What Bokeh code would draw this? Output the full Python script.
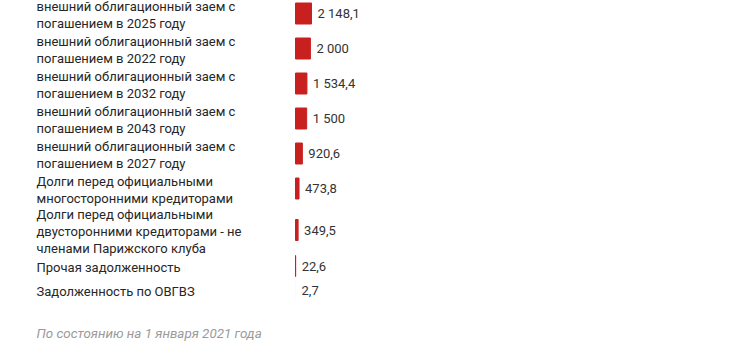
from bokeh.plotting import figure
from bokeh.models import ColumnDataSource, LabelSet, Label, Range1d
from bokeh.core.properties import value
from bokeh.embed import file_html
from bokeh.resources import INLINE

categories = [
    "внешний облигационный заем с\nпогашением в 2025 году",
    "внешний облигационный заем с\nпогашением в 2022 году",
    "внешний облигационный заем с\nпогашением в 2032 году",
    "внешний облигационный заем с\nпогашением в 2043 году",
    "внешний облигационный заем с\nпогашением в 2027 году",
    "Долги перед официальными\nмногосторонними кредиторами",
    "Долги перед официальными\nдвусторонними кредиторами - не\nчленами Парижского клуба",
    "Прочая задолженность",
    "Задолженность по ОВГВЗ",
]
values = [2148.1, 2000, 1534.4, 1500, 920.6, 473.8, 349.5, 22.6, 2.7]
value_labels = ["2 148,1", "2 000", "1 534,4", "1 500", "920,6", "473,8", "349,5", "22,6", "2,7"]
footnote = "По состоянию на 1 января 2021 года"

W, H = 730, 347
BAR_X0 = 295          # pixel where the zero of the value axis sits
PX_PER_UNIT = 16 / 2148.1
row_h = {1: 24, 2: 35, 3: 48}
BAR_COLOR = "#c8201f"

# row centres (pixel-like units from top), derived from label line counts
lines = [c.count("\n") + 1 for c in categories]
centres = []
y = 13.0
for i, n in enumerate(lines):
    if i > 0:
        y += (row_h[lines[i - 1]] + row_h[n]) / 2
    centres.append(y)

# thin bars still get a hairline like the original renderer, tiny ones nothing
outline = [1.0 if v * PX_PER_UNIT >= 0.1 else 0.0 for v in values]

src = ColumnDataSource(dict(y=centres, v=values, cat=categories, vl=value_labels, lw=outline))

p = figure(width=W, height=H, output_backend="svg", toolbar_location=None,
           x_range=Range1d(-BAR_X0 / PX_PER_UNIT, (W - BAR_X0) / PX_PER_UNIT),
           y_range=Range1d(H, 0), min_border=0)
p.axis.visible = False
p.grid.visible = False
p.outline_line_color = None
p.background_fill_color = "white"
p.border_fill_color = "white"

p.hbar(y="y", left=0, right="v", height=21, source=src,
       fill_color=BAR_COLOR, line_color=BAR_COLOR, line_width="lw")

p.add_layout(LabelSet(x=36, y="y", x_units="screen", y_offset=-1.5, text="cat", source=src,
                      text_font=value("Roboto"), text_font_size="13px", text_color="#262626",
                      text_baseline="middle", text_align="left", text_line_height=1.15))
p.add_layout(LabelSet(x="v", y="y", x_offset=6, text="vl", source=src,
                      text_font=value("Roboto"), text_font_size="13px", text_color="#333333",
                      text_baseline="middle", text_align="left"))
p.add_layout(Label(x=36, y=333, x_units="screen", text=footnote,
                   text_font="Roboto", text_font_size="13.4px", text_font_style="italic",
                   text_color="#9a9a9a", text_baseline="middle"))

open("out.html", "w").write(file_html(p, INLINE))
